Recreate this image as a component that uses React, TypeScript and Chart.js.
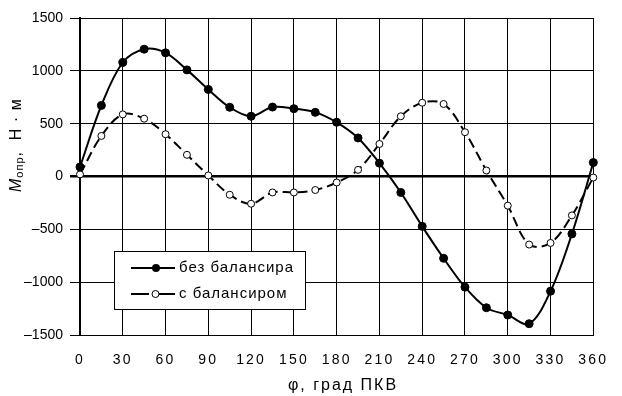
import { useEffect, useRef } from 'react';
import { Chart, registerables } from 'chart.js';

Chart.register(...registerables);

// Crank angle, degrees
const angles = [0, 15, 30, 45, 60, 75, 90, 105, 120, 135, 150, 165, 180, 195, 210, 225, 240, 255, 270, 285, 300, 315, 330, 345, 360];
// Moment without balancer, N·m
const withoutBalancer = [90, 673, 1079, 1205, 1170, 1009, 824, 655, 570, 657, 642, 607, 513, 365, 126, -151, -472, -774, -1047, -1242, -1311, -1393, -1085, -543, 132];
// Moment with balancer, N·m
const withBalancer = [20, 384, 588, 547, 400, 205, 10, -173, -258, -151, -151, -128, -57, 63, 308, 570, 698, 686, 419, 57, -276, -644, -629, -368, -10];

const xTicks = [0, 30, 60, 90, 120, 150, 180, 210, 240, 270, 300, 330, 360];
const yTicks = [-1500, -1000, -500, 0, 500, 1000, 1500];

const seriesNames = ['без балансира', 'с балансиром'];
const xTitle = 'φ, град ПКВ';

const FONT = '"Liberation Sans", Arial, sans-serif';

const overlay = {
  id: 'overlay',
  beforeDraw(chart: any) {
    (chart.ctx as any).letterSpacing = '2.2px';
  },
  beforeDatasetsDraw(chart: any) {
    (chart.ctx as any).letterSpacing = '0px';
  },
  afterDraw(chart: any) {
    const ctx = chart.ctx as any;
    // Y axis title
    ctx.save();
    ctx.fillStyle = '#000';
    ctx.translate(21, 192);
    ctx.rotate(-Math.PI / 2);
    ctx.textBaseline = 'alphabetic';
    ctx.textAlign = 'left';
    ctx.letterSpacing = '1px';
    ctx.font = 'italic 16px ' + FONT;
    ctx.fillText('M', 0, 0);
    let w = ctx.measureText('M').width;
    ctx.font = '11px ' + FONT;
    ctx.fillText('опр', w, 1.5);
    w += ctx.measureText('опр').width;
    ctx.font = '16px ' + FONT;
    ctx.fillText(',  Н · м', w, 0);
    ctx.restore();

    // X axis title
    ctx.save();
    ctx.fillStyle = '#000';
    ctx.font = '16px ' + FONT;
    ctx.letterSpacing = '2px';
    ctx.textAlign = 'center';
    ctx.textBaseline = 'middle';
    ctx.fillText(xTitle, 343, 386);
    ctx.restore();

    // Legend
    ctx.save();
    ctx.fillStyle = '#fff';
    ctx.strokeStyle = '#000';
    ctx.lineWidth = 1;
    ctx.fillRect(114.5, 251.5, 191, 58);
    ctx.strokeRect(114.5, 251.5, 191, 58);
    ctx.lineWidth = 2;
    ctx.beginPath();
    ctx.moveTo(131, 268);
    ctx.lineTo(175, 268);
    ctx.stroke();
    ctx.beginPath();
    ctx.arc(156, 268, 4, 0, Math.PI * 2);
    ctx.fillStyle = '#000';
    ctx.fill();
    ctx.beginPath();
    ctx.moveTo(131, 294);
    ctx.lineTo(149, 294);
    ctx.moveTo(159, 294);
    ctx.lineTo(175, 294);
    ctx.stroke();
    ctx.beginPath();
    ctx.arc(155.5, 294, 3.5, 0, Math.PI * 2);
    ctx.fillStyle = '#fff';
    ctx.fill();
    ctx.lineWidth = 1;
    ctx.stroke();
    ctx.fillStyle = '#000';
    ctx.font = '15px ' + FONT;
    ctx.letterSpacing = '1px';
    ctx.textAlign = 'left';
    ctx.textBaseline = 'middle';
    ctx.fillText(seriesNames[0], 179, 268);
    ctx.fillText(seriesNames[1], 179, 294);
    ctx.restore();
  },
};

export default function App() {
  const ref = useRef<HTMLCanvasElement>(null);
  useEffect(() => {
    const chart = new Chart(ref.current as HTMLCanvasElement, {
      type: 'line',
      data: {
        datasets: [
          {
            label: seriesNames[0],
            data: angles.map((a, i) => ({ x: a, y: withoutBalancer[i] })),
            borderColor: '#000',
            borderWidth: 2,
            pointRadius: 4,
            pointBackgroundColor: '#000',
            pointBorderColor: '#000',
            pointBorderWidth: 1,
            tension: 0.35,
            clip: false as any,
          },
          {
            label: seriesNames[1],
            data: angles.map((a, i) => ({ x: a, y: withBalancer[i] })),
            borderColor: '#000',
            borderWidth: 2,
            borderDash: [10, 5],
            pointRadius: 3.5,
            pointBackgroundColor: '#fff',
            pointBorderColor: '#000',
            pointBorderWidth: 1,
            tension: 0.35,
            clip: false as any,
          },
        ],
      },
      options: {
        animation: false,
        responsive: false,
        devicePixelRatio: 1,
        layout: { padding: { left: 0, right: 23, top: 18, bottom: 0 } },
        plugins: { legend: { display: false }, tooltip: { enabled: false } },
        scales: {
          x: {
            type: 'linear',
            min: xTicks[0],
            max: xTicks[xTicks.length - 1],
            afterFit: (s: any) => { s.height = 61; },
            afterBuildTicks: (s: any) => { s.ticks = xTicks.map((v) => ({ value: v })); },
            grid: { color: '#000', lineWidth: 1, drawTicks: false },
            border: { color: '#000', width: 1 },
            ticks: {
              padding: 17,
              color: '#000',
              font: { family: FONT, size: 14 },
              maxRotation: 0,
              autoSkip: false,
              callback: (v: any) => String(v),
            },
          },
          y: {
            type: 'linear',
            min: yTicks[0],
            max: yTicks[yTicks.length - 1],
            afterFit: (s: any) => { s.width = 80; },
            afterBuildTicks: (s: any) => { s.ticks = yTicks.map((v) => ({ value: v })); },
            grid: {
              color: '#000',
              lineWidth: (c: any) => (c.tick && c.tick.value === 0 ? 2.5 : 1),
              tickLength: 10,
            },
            border: { color: '#000', width: 2 },
            ticks: {
              z: 1,
              padding: 7,
              color: '#000',
              font: { family: FONT, size: 14 },
              autoSkip: false,
              callback: (v: any) => (v < 0 ? '–' + Math.abs(v) : String(v)),
            },
          },
        },
      },
      plugins: [overlay],
    });
    return () => chart.destroy();
  }, []);
  return (
    <div style={{ position: 'fixed', left: 0, top: 0, width: 622, height: 396, background: '#fff' }}>
      <canvas ref={ref} width={622} height={396} style={{ display: 'block' }} />
    </div>
  );
}
